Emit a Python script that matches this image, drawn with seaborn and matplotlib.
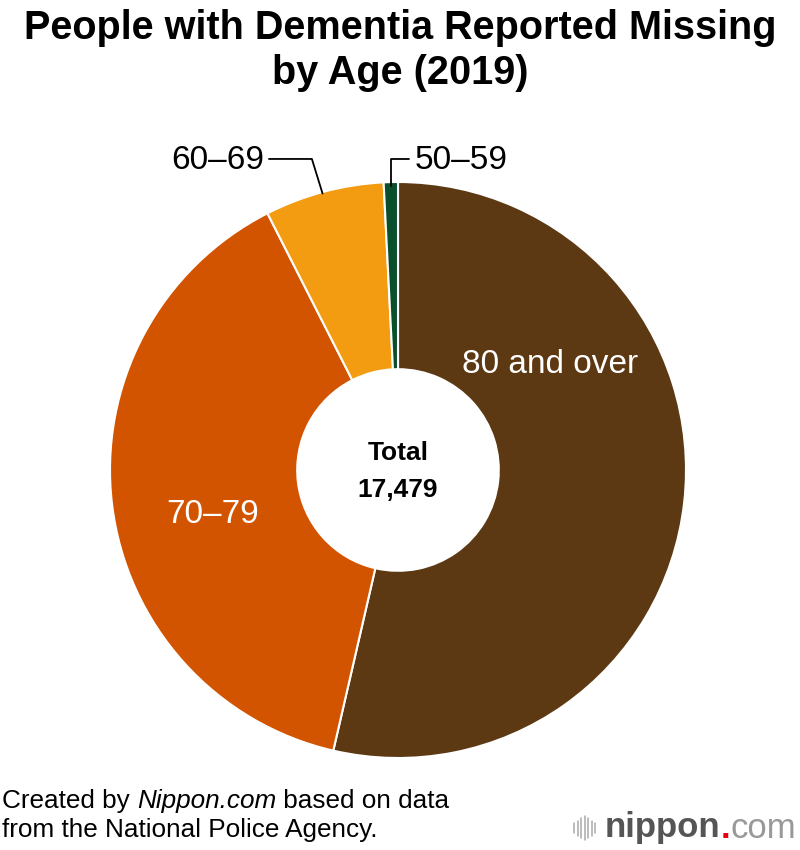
import matplotlib
matplotlib.use("Agg")
import matplotlib.pyplot as plt
import seaborn as sns
from matplotlib.lines import Line2D

# Data
categories = ["80 and over", "70–79", "60–69", "50–59"]
values = [9370, 6800, 1170, 139]
total_label = "17,479"
colors = ["#5C3913", "#D35400", "#F39C12", "#0A4F2B"]

sns.set_theme(style="white")
plt.rcParams["font.family"] = ["Liberation Sans", "DejaVu Sans"]

fig = plt.figure(figsize=(8, 8.5), dpi=100)
fig.patch.set_facecolor("white")

cx, cy, R = 398, 470, 288
ax = fig.add_axes([(cx - R) / 800, 1 - (cy + R) / 850, 2 * R / 800, 2 * R / 850])
wedges, _ = ax.pie(values, colors=colors, startangle=90, counterclock=False,
                   radius=1.0, wedgeprops=dict(width=0.65, edgecolor="white", linewidth=1.5))
ax.set_xlim(-1, 1)
ax.set_ylim(-1, 1)
ax.set_aspect("auto")
ax.axis("off")

# Inside labels
ax.text(0.528, 0.365, categories[0], color="white", fontsize=24, ha="center", va="center")
ax.text(-0.642, -0.156, categories[1], color="white", fontsize=24, ha="center", va="center")

# Outside labels with leader lines
ax.text(-0.465, 1.076, categories[2], color="black", fontsize=24, ha="right", va="center", clip_on=False)
ax.add_line(Line2D([-0.448, -0.299, -0.262], [1.08, 1.08, 0.96], color="black", lw=1.3, clip_on=False))
ax.text(0.059, 1.076, categories[3], color="black", fontsize=24, ha="left", va="center", clip_on=False)
ax.add_line(Line2D([0.038, -0.024, -0.024], [1.08, 1.08, 0.985], color="black", lw=1.3, clip_on=False))

# Center total
ax.text(0, 0.06, "Total", color="black", fontsize=19, fontweight="bold", ha="center", va="center")
ax.text(0, -0.07, total_label, color="black", fontsize=19, fontweight="bold", ha="center", va="center")

# Title
fig.text(0.5, 1 - 28 / 850, "People with Dementia Reported Missing", fontsize=28.5,
         fontweight="bold", ha="center", va="center", color="black")
fig.text(0.5, 1 - 73 / 850, "by Age (2019)", fontsize=28.5,
         fontweight="bold", ha="center", va="center", color="black")


def run_text(x_px, y_px, parts, size):
    x = x_px / 800
    for s, style, weight, color in parts:
        t = fig.text(x, 1 - y_px / 850, s, fontsize=size, fontstyle=style, fontweight=weight,
                     color=color, ha="left", va="center")
        fig.canvas.draw()
        x = t.get_window_extent().x1 / 800


# Footer
run_text(2, 801, [("Created by ", "normal", "normal", "black"),
                  ("Nippon.com", "italic", "normal", "black"),
                  (" based on data", "normal", "normal", "black")], 18.8)
run_text(2, 830, [("from the National Police Agency.", "normal", "normal", "black")], 18.8)

# Logo
bx = [574, 577.5, 581, 584.5, 588, 591.5, 595]
bh = [10, 15, 20, 24, 20, 15, 10]
for x, h in zip(bx, bh):
    fig.add_artist(Line2D([x / 800, x / 800], [1 - (828 + h / 2) / 850, 1 - (828 - h / 2) / 850],
                          color="#AAAAAA", lw=1.1))
run_text(605, 828, [("nippon", "normal", "bold", "#555555"),
                    (".", "normal", "bold", "#E60012"),
                    ("com", "normal", "normal", "#999999")], 25)

fig.savefig("out.png", dpi=100, facecolor="white")
